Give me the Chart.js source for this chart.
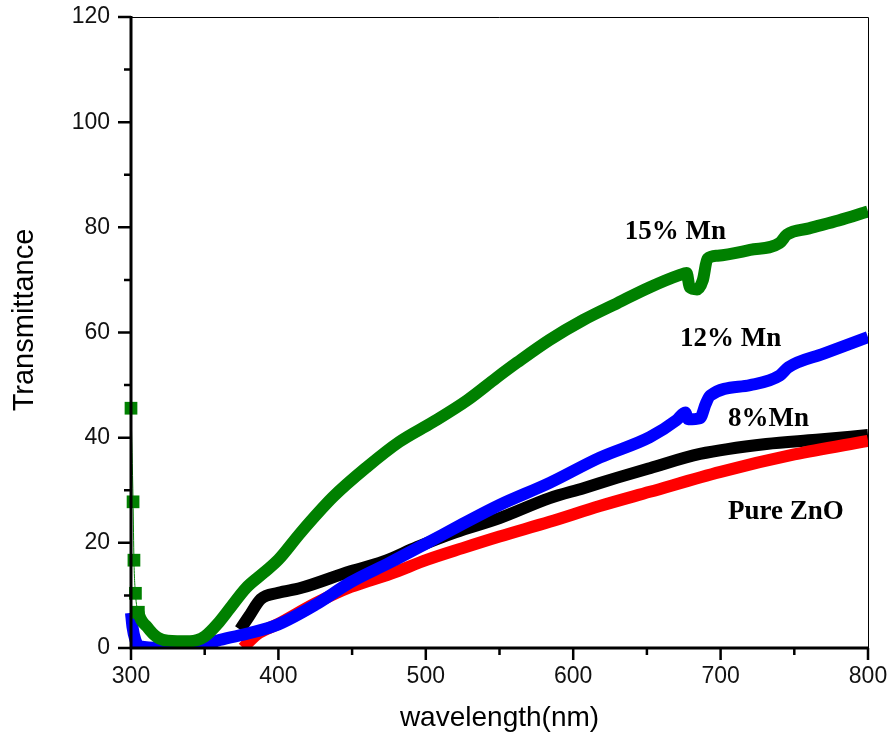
<!DOCTYPE html>
<html>
<head>
<meta charset="utf-8">
<script src="https://cdn.jsdelivr.net/npm/chart.js@4.4.1/dist/chart.umd.min.js"></script>
<style>
  html, body { margin: 0; padding: 0; background: #fff; }
  #wrap { width: 893px; height: 744px; position: relative; }
</style>
</head>
<body>
<div id="wrap"><canvas id="transmittance-chart"></canvas></div>
<script>
// wavelength (nm) / transmittance (%) per sample
const mn15Wavelength = [300, 301.4, 302, 303, 305, 311, 318, 325, 340, 350, 360, 367, 378, 390, 400, 415, 437, 460, 482, 505, 528, 548, 562, 584, 607, 630, 652, 672, 677, 679, 684, 688, 691, 698, 720, 740, 745, 760, 780, 800];
const mn15Values = [45.6, 27.8, 16.7, 10.4, 6.8, 4, 2, 1.4, 1.3, 2.2, 5, 7.5, 11.4, 14.3, 16.8, 21.9, 28.7, 34.4, 39.2, 43, 47.1, 51.4, 54.3, 58.6, 62.4, 65.6, 68.6, 70.9, 71.3, 68.6, 68.2, 70, 74, 74.6, 75.7, 77, 78.6, 79.8, 81.3, 83];

const mn12Wavelength = [300, 301, 303, 306, 320, 340, 350, 360, 380, 400, 425, 449, 476, 501, 525, 550, 584, 618, 652, 670, 676, 678, 686, 690, 693, 720, 740, 746, 770, 800];
const mn12Values = [6.7, 4, 1.5, 0.3, 0, 0, 0.5, 1.5, 2.8, 4.5, 8.2, 12.5, 16.3, 20, 23.6, 27.2, 31.4, 36.2, 40.1, 43.3, 44.8, 43.5, 43.7, 46.5, 48, 50, 51.8, 53.4, 56, 59.1];

const mn8Wavelength = [374, 380, 388, 400, 415, 449, 471, 494, 520, 550, 584, 607, 630, 652, 686, 731, 765, 800];
const mn8Values = [3.5, 6, 9.3, 10.5, 11.4, 14.6, 16.4, 19.2, 22, 24.7, 28.5, 30.4, 32.4, 34.2, 36.9, 38.8, 39.6, 40.5];

const znoWavelength = [376, 385, 400, 425, 449, 476, 501, 525, 550, 584, 618, 652, 700, 750, 800];
const znoValues = [0, 2.5, 4.6, 8.5, 11.6, 14.1, 16.8, 19, 21.2, 24, 27, 29.7, 33.5, 36.8, 39.4];

// curve labels and where they sit (data units)
const curveNames = ['15% Mn', '12% Mn', '8%Mn', 'Pure ZnO'];
const curveNameX = [635, 672.5, 705, 705];
const curveNameY = [79.1, 58.7, 43.5, 25.9];

const xTickLabels = [300, 400, 500, 600, 700, 800];
const yTickLabels = [0, 20, 40, 60, 80, 100, 120];

function toPoints(xs, ys) {
  return xs.map((x, i) => ({ x: x, y: ys[i] }));
}

function lineDataset(xs, ys, color) {
  return {
    data: toPoints(xs, ys),
    borderColor: color,
    backgroundColor: color,
    borderWidth: 12,
    pointRadius: 0,
    cubicInterpolationMode: 'monotone',
    borderJoinStyle: 'round',
    borderCapStyle: 'butt',
    clip: { left: 8, top: 0, right: 0, bottom: 0 },
  };
}

// the first few 15% Mn readings are separate square markers joined by a thin line
const greenSet = lineDataset(mn15Wavelength, mn15Values, '#008000');
greenSet.pointStyle = 'rect';
greenSet.pointRadius = mn15Values.map((v, i) => (i < 5 ? 9 : 0));
greenSet.pointBorderWidth = 0;
greenSet.segment = {
  borderWidth: (ctx) => (ctx.p0DataIndex < 4 ? 1 : 12),
};

// strip the label-overflow padding so the plot box keeps its fixed size
function fixPadding(scale) {
  scale.paddingTop = 0;
  scale.paddingBottom = 0;
  scale.paddingLeft = 0;
  scale.paddingRight = 0;
}

const axisFrame = {
  id: 'axisFrame',
  afterDatasetsDraw(chart) {
    const { ctx, chartArea: a, scales } = chart;
    const xs = scales.x;
    const ys = scales.y;
    ctx.save();
    ctx.strokeStyle = '#000';

    // thin top and right border
    ctx.lineWidth = 1;
    ctx.beginPath();
    ctx.moveTo(a.left, a.top + 0.5);
    ctx.lineTo(a.right + 0.5, a.top + 0.5);
    ctx.lineTo(a.right + 0.5, a.bottom);
    ctx.stroke();

    // heavy left and bottom axis
    ctx.lineWidth = 3;
    ctx.beginPath();
    ctx.moveTo(a.left, a.top - 1);
    ctx.lineTo(a.left, a.bottom);
    ctx.lineTo(a.right + 1, a.bottom);
    ctx.stroke();

    ctx.lineWidth = 2.5;
    ctx.beginPath();
    for (let v = xs.min; v <= xs.max; v += 50) {
      const px = xs.getPixelForValue(v);
      const len = v % 100 === 0 ? 12 : 7;
      ctx.moveTo(px, a.bottom);
      ctx.lineTo(px, a.bottom + len);
    }
    for (let v = ys.min; v <= ys.max; v += 10) {
      const py = ys.getPixelForValue(v);
      const len = v % 20 === 0 ? 13 : 7;
      ctx.moveTo(a.left, py);
      ctx.lineTo(a.left - len, py);
    }
    ctx.stroke();

    // curve names
    ctx.fillStyle = '#000';
    ctx.font = 'bold 27px "Liberation Serif", "Times New Roman", serif';
    ctx.textAlign = 'left';
    ctx.textBaseline = 'middle';
    curveNames.forEach((name, i) => {
      ctx.fillText(name, xs.getPixelForValue(curveNameX[i]), ys.getPixelForValue(curveNameY[i]));
    });

    // axis titles
    ctx.textAlign = 'center';
    ctx.font = '28px "Liberation Sans", Arial, sans-serif';
    ctx.fillText('wavelength(nm)', (a.left + a.right) / 2, 718);
    ctx.font = '29px "Liberation Sans", Arial, sans-serif';
    ctx.translate(25, 320);
    ctx.rotate(-Math.PI / 2);
    ctx.fillText('Transmittance', 0, 0);
    ctx.restore();
  },
};

const tickFont = { family: '"Liberation Sans", Arial, sans-serif', size: 23 };

const ctx = document.getElementById('transmittance-chart').getContext('2d');
new Chart(ctx, {
  type: 'line',
  data: {
    datasets: [
      greenSet,
      lineDataset(mn12Wavelength, mn12Values, '#0000ff'),
      lineDataset(znoWavelength, znoValues, '#ff0000'),
      lineDataset(mn8Wavelength, mn8Values, '#000000'),
    ],
  },
  options: {
    responsive: true,
    maintainAspectRatio: false,
    animation: false,
    layout: { padding: { top: 17, right: 25, left: 0, bottom: 0 } },
    plugins: { legend: { display: false }, tooltip: { enabled: false } },
    scales: {
      x: {
        type: 'linear',
        min: 300,
        max: 800,
        afterBuildTicks: (scale) => { scale.ticks = xTickLabels.map((v) => ({ value: v })); },
        afterFit: (scale) => { scale.height = 96; fixPadding(scale); },
        grid: { display: false, drawTicks: false },
        border: { display: false },
        ticks: { color: '#111', font: tickFont, padding: 15, maxRotation: 0 },
      },
      y: {
        min: 0,
        max: 120,
        afterBuildTicks: (scale) => { scale.ticks = yTickLabels.map((v) => ({ value: v })); },
        afterFit: (scale) => { scale.width = 131; fixPadding(scale); },
        grid: { display: false, drawTicks: false },
        border: { display: false },
        ticks: { color: '#111', font: tickFont, padding: 21 },
      },
    },
  },
  plugins: [axisFrame],
});
</script>
</body>
</html>
